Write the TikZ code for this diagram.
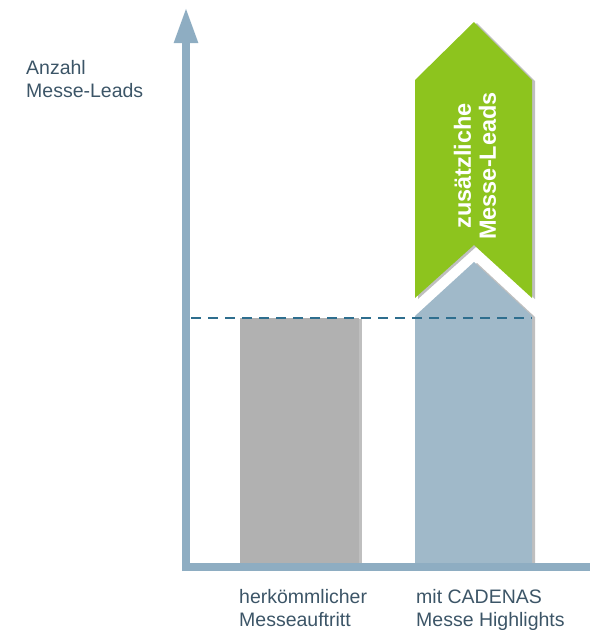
\documentclass[tikz,border=0pt]{standalone}
\usepackage{fontspec}
\setmainfont{Liberation Sans}
\usetikzlibrary{arrows.meta,shadows}

\definecolor{axisblue}{HTML}{8EADC2}
\definecolor{barblue}{HTML}{A0B9C9}
\definecolor{bargray}{HTML}{B1B1B1}
\definecolor{leadgreen}{HTML}{8DC41E}
\definecolor{dashblue}{HTML}{2E6E8E}
\definecolor{labeltext}{HTML}{3C5567}

\begin{document}
\begin{tikzpicture}[x=1pt,y=-1pt,
    axislabel/.style={text=labeltext,font=\fontsize{19.5}{23}\selectfont,align=left,inner sep=0pt},
    barshadow/.style={drop shadow={shadow xshift=3pt,shadow yshift=-1pt,opacity=.25,fill=black}}]
  \useasboundingbox (0,0) rectangle (590,630);

  % bars
  \fill [bargray,barshadow] (240,318) rectangle (359,563);
  \fill [barblue,barshadow] (415,563) -- (415,316) -- (474,262) -- (532,316) -- (532,563) -- cycle;
  \fill [leadgreen,barshadow] (415,298) -- (415,80) -- (474,22) -- (532,80) -- (532,298) -- (474,245) -- cycle;
  \node [rotate=90,text=white,font=\bfseries\fontsize{23.5}{25}\selectfont,align=center] (extra) at (475,166) {zusätzliche\\Messe-Leads};

  % axes
  \draw [axisblue,line width=8pt,-{Triangle[width=22pt,length=36pt]}] (186,571) -- (186,7);
  \draw [axisblue,line width=8pt] (182,567) -- (590,567);
  \draw [dashblue,line width=1.6pt,dash pattern=on 10pt off 7pt] (191,318) -- (532,318);

  % labels
  \node [axislabel,anchor=base west] (yaxis) at (26,97) {Anzahl\\Messe-Leads};
  \node [axislabel,anchor=base west] (classic) at (239,626) {herkömmlicher\\Messeauftritt};
  \node [axislabel,anchor=base west] (cadenas) at (416,626) {mit CADENAS\\Messe Highlights};

\end{tikzpicture}
\end{document}
